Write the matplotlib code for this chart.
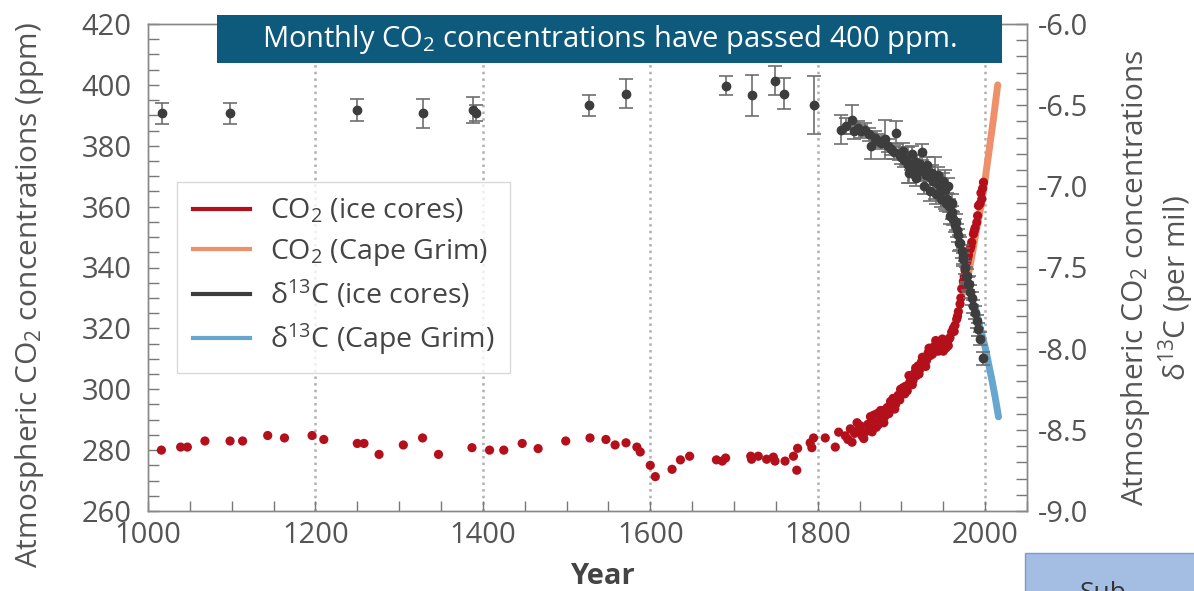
import numpy as np
import matplotlib
matplotlib.use("Agg")
import matplotlib.pyplot as plt
from matplotlib.lines import Line2D
from matplotlib.patches import Rectangle
from matplotlib.ticker import MultipleLocator

plt.rcParams['font.family'] = ['Open Sans', 'DejaVu Sans']
plt.rcParams['mathtext.fontset'] = 'custom'
plt.rcParams['mathtext.rm'] = 'Open Sans'
plt.rcParams['mathtext.default'] = 'regular'

# CO2 from ice cores (year, ppm)
ice_co2_year = [1016, 1039, 1047, 1068, 1098, 1113, 1143, 1163, 1196, 1210, 1250, 1258,
                1276, 1305, 1328, 1347, 1387, 1408, 1425, 1447, 1466, 1499, 1528, 1547,
                1558, 1571, 1584, 1588, 1600, 1606, 1626, 1636, 1647, 1679, 1686, 1690,
                1720, 1721, 1729, 1739, 1747, 1749, 1761, 1771, 1775, 1776, 1791, 1793,
                1795, 1809, 1821, 1825,
                1833, 1839, 1841, 1847, 1849, 1853, 1857, 1860, 1863, 1865, 1868, 1871,
                1873, 1876, 1878, 1880, 1883, 1885, 1888, 1890, 1893, 1896, 1898, 1900,
                1902, 1905, 1907, 1910, 1912, 1914, 1916, 1918, 1920, 1922, 1924, 1926,
                1928, 1930, 1932, 1934, 1936, 1938, 1940, 1942, 1944, 1946, 1948, 1950,
                1952, 1954, 1956, 1958, 1960, 1962, 1964, 1966, 1968, 1970, 1972, 1974,
                1976, 1978, 1980, 1982, 1984, 1986, 1988, 1990, 1992, 1994, 1996, 1998,
                1836, 1844, 1851, 1855, 1862, 1867, 1870, 1875, 1879, 1882, 1887, 1892,
                1895, 1899, 1904, 1909, 1913, 1917, 1921, 1925, 1929, 1933, 1937, 1941,
                1945, 1949, 1953, 1957, 1963, 1967, 1971, 1975, 1979, 1983, 1987, 1991,
                1995, 1997]
ice_co2_ppm = [280.0, 281.0, 281.0, 283.0, 283.0, 283.0, 284.8, 284.0, 284.8, 283.5, 282.2, 282.2,
               278.6, 281.7, 284.0, 278.6, 280.8, 280.0, 280.0, 282.2, 280.5, 283.0, 284.0, 283.5,
               281.7, 282.4, 281.0, 279.4, 275.0, 271.3, 273.7, 276.8, 278.0, 276.8, 276.4, 277.4,
               278.0, 277.0, 278.0, 277.0, 277.7, 276.4, 276.4, 278.0, 273.4, 280.6, 282.4, 280.8,
               284.0, 284.0, 281.0, 285.9,
               284.7, 287.0, 282.6, 289.0, 287.0, 284.7, 286.0, 288.5, 291.0, 286.0, 289.0, 292.0,
               288.5, 290.0, 293.0, 291.0, 294.0, 292.0, 294.6, 297.0, 295.0, 298.0, 296.5, 299.0,
               300.5, 301.0, 299.5, 302.3, 304.0, 303.0, 305.5, 304.5, 307.7, 306.5, 309.0, 308.0,
               310.5, 309.5, 312.0, 311.0, 313.5, 312.5, 314.3, 313.0, 312.5, 313.5, 314.0, 312.5,
               315.4, 315.5, 314.3, 317.0, 318.8, 320.0, 321.0, 323.0, 325.5, 328.0, 333.0, 335.5,
               339.0, 341.7, 344.0, 346.0, 348.3, 351.0, 353.0, 354.8, 360.3, 361.0, 362.5, 368.0,
               283.5, 285.5, 288.0, 283.8, 287.5, 291.5, 287.5, 293.0, 289.0, 292.0, 296.0, 293.5,
               296.5, 300.0, 298.5, 304.5, 301.5, 307.0, 305.0, 310.5, 307.5, 313.5, 311.5, 316.0,
               315.0, 316.5, 313.5, 316.5, 319.0, 324.0, 330.0, 337.0, 343.0, 347.0, 352.0, 357.0,
               364.5, 366.0]

# CO2 at Cape Grim
cg_co2_year = [1976, 1985, 1990, 1995, 2000, 2005, 2010, 2015]
cg_co2_ppm = [332, 345, 353, 360, 369, 379, 389, 400]

# d13C from ice cores (year, per mil, error)
ice_d13_year = [1017, 1098, 1250, 1328, 1388, 1392, 1527, 1571, 1691, 1721, 1749, 1760, 1795,
                1828, 1834, 1841, 1843, 1848, 1852, 1856, 1861, 1864, 1868, 1872, 1876, 1880,
                1884, 1888, 1891, 1894, 1897, 1900, 1903, 1906, 1908, 1911, 1914, 1917, 1920,
                1924, 1926, 1929, 1932, 1935, 1938, 1940, 1943, 1946, 1949, 1952, 1955, 1957,
                1960, 1962, 1964, 1966, 1968, 1970, 1972, 1974, 1976, 1978, 1980, 1982, 1984,
                1986, 1988, 1990, 1992, 1994, 1997,
                1902, 1909, 1913, 1918, 1922, 1927, 1931, 1934, 1937, 1941, 1944, 1947,
                1950, 1953, 1956, 1958, 1961, 1965, 1969, 1973, 1977, 1981]
ice_d13 = [-6.55, -6.55, -6.53, -6.55, -6.53, -6.55, -6.50, -6.43, -6.38, -6.44, -6.35, -6.43, -6.50,
           -6.65, -6.63, -6.59, -6.66, -6.64, -6.66, -6.65, -6.68, -6.75, -6.70, -6.72, -6.73, -6.71,
           -6.75, -6.77, -6.79, -6.67, -6.80, -6.82, -6.84, -6.83, -6.87, -6.86, -6.88, -6.85, -6.91,
           -6.79, -6.90, -6.93, -6.92, -6.95, -6.97, -6.95, -6.98, -7.00, -7.02, -7.02, -7.08, -7.12,
           -7.16, -7.20, -7.24, -7.27, -7.30, -7.35, -7.40, -7.45, -7.50, -7.55, -7.60, -7.65, -7.69,
           -7.74, -7.78, -7.83, -7.88, -7.94, -8.06,
           -6.78, -6.92, -6.80, -6.95, -6.86, -7.00, -6.87, -7.03, -6.92, -7.05, -6.93, -7.08,
           -6.97, -7.10, -7.00, -7.18, -7.10, -7.22, -7.35, -7.43, -7.55, -7.60]
ice_d13_err = [0.065, 0.065, 0.065, 0.09, 0.08, 0.05, 0.065, 0.09, 0.06, 0.125, 0.09, 0.095, 0.18,
               0.09, 0.05, 0.09, 0.05, 0.04, 0.04, 0.04, 0.04, 0.08, 0.04, 0.04, 0.04, 0.12,
               0.04, 0.04, 0.04, 0.07, 0.04, 0.04, 0.04, 0.04, 0.11, 0.04, 0.04, 0.04, 0.04,
               0.05, 0.04, 0.04, 0.04, 0.04, 0.04, 0.13, 0.04, 0.04, 0.04, 0.12, 0.04, 0.04,
               0.04, 0.04, 0.04, 0.04, 0.04, 0.04, 0.04, 0.04, 0.04, 0.04, 0.04, 0.04, 0.04,
               0.04, 0.04, 0.04, 0.04, 0.04, 0.04,
               0.05, 0.06, 0.05, 0.05, 0.05, 0.05, 0.05, 0.06, 0.05, 0.06, 0.05, 0.05,
               0.05, 0.05, 0.05, 0.05, 0.05, 0.05, 0.05, 0.05, 0.05, 0.05]

# d13C at Cape Grim
cg_d13_year = [1988, 1992, 1996, 2000, 2004, 2008, 2012, 2016]
cg_d13 = [-7.74, -7.83, -7.91, -7.99, -8.09, -8.19, -8.30, -8.42]

legend_labels = ["CO$_2$ (ice cores)", "CO$_2$ (Cape Grim)",
                 "δ$^{13}$C (ice cores)", "δ$^{13}$C (Cape Grim)"]

RED = "#b3101c"
ORANGE = "#ee9069"
BLACK = "#3d3d3d"
BLUE = "#66a6cf"
GREY = "#555555"

fig = plt.figure(figsize=(11.94, 5.91), dpi=100)
ax = fig.add_axes([148 / 1194, 1 - 511 / 591, 879 / 1194, 487 / 591])
ax2 = ax.twinx()

for yr in [1200, 1400, 1600, 1800, 2000]:
    ax.axvline(yr, color="#b0b0b0", ls=":", lw=1.8, zorder=0)

ax.plot(cg_co2_year, cg_co2_ppm, color=ORANGE, lw=5, solid_capstyle="round", zorder=2)
ax.scatter(ice_co2_year, ice_co2_ppm, s=44, color=RED, edgecolor="none", zorder=3)

ax2.plot(cg_d13_year, cg_d13, color=BLUE, lw=5, solid_capstyle="round", zorder=2)
ax2.errorbar(ice_d13_year, ice_d13, yerr=ice_d13_err, fmt="o", ms=6, color=BLACK,
             ecolor="#6e6e6e", elinewidth=1.2, capsize=5, capthick=1.2, zorder=3)

ax.set_xlim(1000, 2050)
ax.set_ylim(260, 420)
ax2.set_ylim(-9.0, -6.0)

ax.xaxis.set_major_locator(MultipleLocator(200))
ax.xaxis.set_minor_locator(MultipleLocator(50))
ax.yaxis.set_major_locator(MultipleLocator(20))
ax.yaxis.set_minor_locator(MultipleLocator(5))
ax2.yaxis.set_major_locator(MultipleLocator(0.5))
ax2.yaxis.set_minor_locator(MultipleLocator(0.1))
ax2.yaxis.set_major_formatter(plt.FormatStrFormatter("%.1f"))

for a in (ax, ax2):
    for s in a.spines.values():
        s.set_color("#888888")
        s.set_linewidth(1.0)
ax.tick_params(axis="both", which="both", direction="in", color="#777777", labelcolor=GREY,
               labelsize=21, length=8, width=1.0)
ax.tick_params(axis="x", which="both", length=7, pad=7)
ax.tick_params(axis="y", pad=12)
ax2.tick_params(axis="y", which="both", direction="in", color="#777777", labelcolor=GREY,
                labelsize=21, length=8, width=1.0, pad=8)

handles = [Line2D([], [], color=c, lw=3) for c in (RED, ORANGE, BLACK, BLUE)]
leg = ax.legend(handles, legend_labels, loc="upper left", bbox_to_anchor=(0.033, 0.676),
                borderaxespad=0, fontsize=20.5, frameon=True, fancybox=False,
                handlelength=2.0, labelspacing=0.38, borderpad=0.55, handletextpad=0.7)
leg.get_frame().set_edgecolor("#d0d0d0")
leg.get_frame().set_linewidth(1.0)
for t in leg.get_texts():
    t.set_color("#444444")

fig.text(30 / 1194, 1 - 295 / 591, "Atmospheric CO$_2$ concentrations (ppm)", rotation=90,
         ha="center", va="center", fontsize=21.5, color=GREY)
fig.text(1135 / 1194, 1 - 278 / 591, "Atmospheric CO$_2$ concentrations", rotation=90,
         ha="center", va="center", fontsize=21.5, color=GREY)
fig.text(1176 / 1194, 1 - 288 / 591, "δ$^{13}$C (per mil)", rotation=90,
         ha="center", va="center", fontsize=21.5, color=GREY)
fig.text(602 / 1194, 1 - 577 / 591, "Year", ha="center", va="center", fontsize=21,
         fontweight="bold", color="#444444")

# title banner
fig.patches.append(Rectangle((217 / 1194, 1 - 63 / 591), 785 / 1194, 48 / 591,
                             transform=fig.transFigure, facecolor="#0d5a7d",
                             edgecolor="none", zorder=5))
fig.text(609 / 1194, 1 - 39 / 591, "Monthly CO$_2$ concentrations have passed 400 ppm.",
         ha="center", va="center", fontsize=21, color="white", zorder=6)

# slide button peeking in at the bottom right
fig.patches.append(Rectangle((1025 / 1194, -0.02), 0.2, (591 - 553) / 591 + 0.02,
                             transform=fig.transFigure, facecolor="#a4bde2",
                             edgecolor="#7f9ccc", lw=1.0, zorder=5))
fig.text(1080 / 1194, 1 - 581 / 591, "Sub", ha="left", va="top", fontsize=19,
         color="#333333", zorder=6)

fig.savefig("out.png", dpi=100)
